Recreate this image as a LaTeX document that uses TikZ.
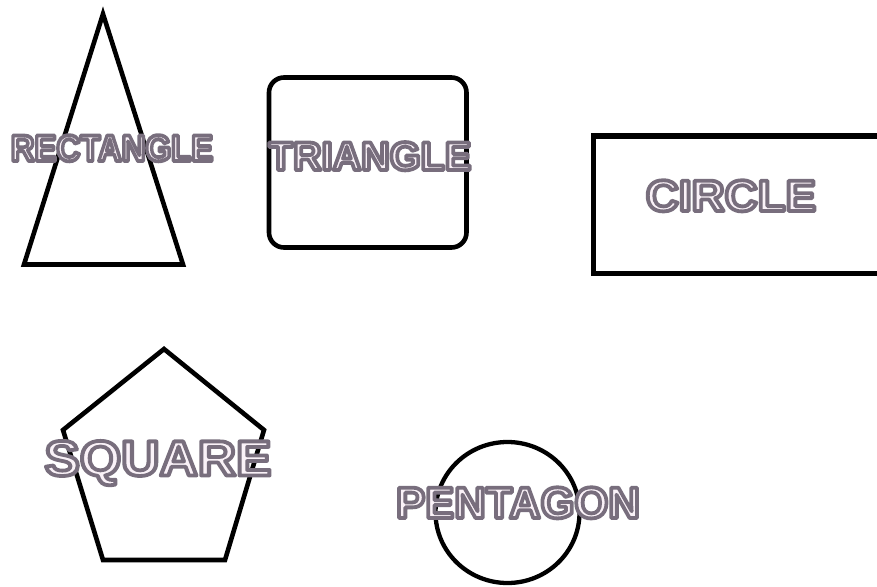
\documentclass[tikz,border=0pt]{standalone}
\usepackage{fontspec}
\setmainfont{Liberation Sans}
\definecolor{lblfill}{RGB}{250,242,248}
% outlined letters: fill light, stroke grey (text render mode 2)
\newcommand{\shapelabel}[3]{\fontsize{#1}{#1}\selectfont\bfseries\scalebox{#2}[1]{\color{lblfill}\special{pdf:literal direct 0.47 0.43 0.49 RG 2 Tr 3.8 w 1 j}#3}}

\begin{document}
\begin{tikzpicture}[x=1pt,y=-1pt,
    shp/.style={draw=black,line width=4.6pt,line join=miter},
    lbl/.style={inner sep=0pt,anchor=base}]
  \useasboundingbox (0,0) rectangle (877,586);
  \clip (0,0) rectangle (877,586);
  % shapes
  \draw[shp] (103,14) -- (183,264.5) -- (24,264.5) -- cycle;
  \draw[shp,rounded corners=15pt] (269,77.5) rectangle (466.5,247.5);
  \draw[shp,line width=5.5pt] (593.5,136) rectangle (895,273.5);
  \draw[shp] (164,349) -- (264,430) -- (225,560) -- (103,560) -- (63,430) -- cycle;
  \draw[shp,line width=4.3pt] (507.5,512.5) ellipse (72 and 70.5);
  % labels
  \node[lbl] (rectlbl) at (112,161) {\shapelabel{37}{0.89}{RECTANGLE}};
  \node[lbl] (trilbl) at (370,170) {\shapelabel{40}{0.99}{TRIANGLE}};
  \node[lbl] (circlbl) at (731,211) {\shapelabel{44}{1.04}{CIRCLE}};
  \node[lbl] (sqlbl) at (158,475.5) {\shapelabel{49.6}{1.07}{SQUARE}};
  \node[lbl] (pentlbl) at (518,518) {\shapelabel{44}{0.99}{PENTAGON}};
\end{tikzpicture}
\end{document}
